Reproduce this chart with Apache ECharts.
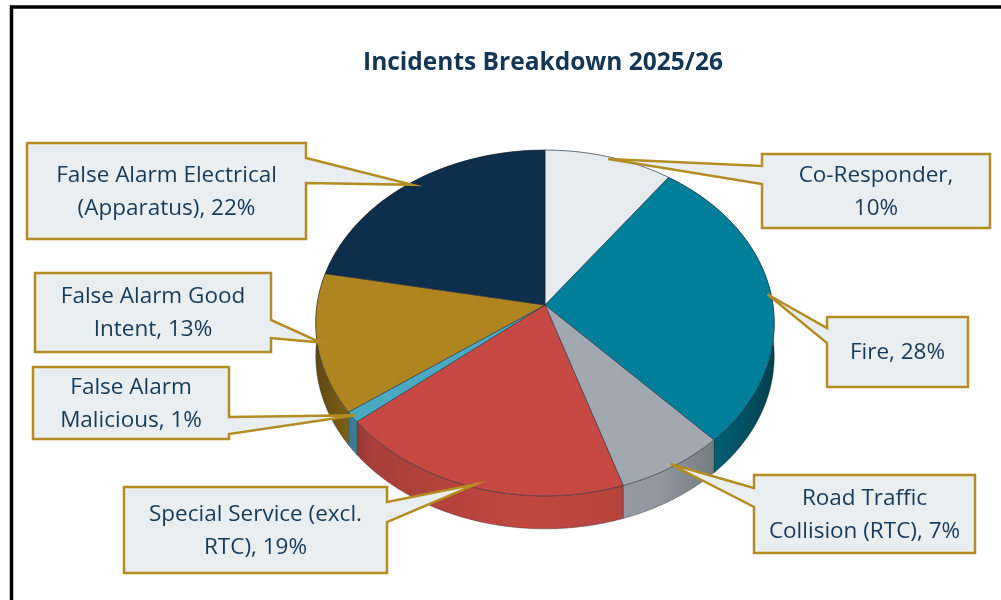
<!DOCTYPE html>
<html><head><meta charset="utf-8">
<script src="https://cdn.jsdelivr.net/npm/echarts@6/dist/echarts.min.js"></script>
<style>html,body{margin:0;padding:0;background:#fff}#c{width:1001px;height:600px}</style>
</head><body><div id="c"></div>
<script>
// ---- data ----
const chartTitle = 'Incidents Breakdown 2025/26';
const categories = ['Co-Responder', 'Fire', 'Road Traffic Collision (RTC)', 'Special Service (excl. RTC)',
  'False Alarm Malicious', 'False Alarm Good Intent', 'False Alarm Electrical (Apparatus)'];
const values = [10, 28, 7, 19, 1, 13, 22];

// ---- styles / layout ----
const colors = ['#e6ebef', '#007f9a', '#a1a8b0', '#c64a43', '#4aa9c3', '#ae851f', '#0d2f4b'];
const PIE = { cx: 545, cy: 305, A: 171, B: 228, p: 0.104, depth: 33 };
const callouts = [
  { x0: 762, y0: 154, x1: 990, y1: 228, side: 'left', w1: 166, w2: 184, br: 1 },
  { x0: 827, y0: 317, x1: 968, y1: 387, side: 'left', w1: 328, w2: 343, br: 0 },
  { x0: 754, y0: 475, x1: 975, y1: 553, side: 'left', w1: 488, w2: 507, br: 2 },
  { x0: 124, y0: 487, x1: 387, y1: 573, side: 'right', w1: 502, w2: 522, br: 3 },
  { x0: 33, y0: 367, x1: 229, y1: 439, side: 'right', w1: 417, w2: 434, br: 2 },
  { x0: 35, y0: 273, x1: 271, y1: 352, side: 'right', w1: 320, w2: 338, br: 3 },
  { x0: 27, y0: 143, x1: 306, y1: 239, side: 'right', w1: 158, w2: 183, br: 3 }
];
const FONT = '"Open Sans", "Noto Sans", sans-serif';

function proj(theta, r, dy) {
  const X = r * Math.sin(theta), Z = r * Math.cos(theta);
  const d = 1 + PIE.p * Z;
  return [PIE.cx + PIE.B * X / d, PIE.cy - PIE.A * Z / d + (dy || 0)];
}
function shade(hex, f) {
  const n = parseInt(hex.slice(1), 16);
  const r = Math.round(((n >> 16) & 255) * f), g = Math.round(((n >> 8) & 255) * f), b = Math.round((n & 255) * f);
  return 'rgb(' + r + ',' + g + ',' + b + ')';
}
function labelText(i) {
  const words = (categories[i] + ', ' + values[i] + '%').split(' ');
  const br = callouts[i].br;
  if (!br) return words.join(' ');
  return words.slice(0, br).join(' ') + '\n' + words.slice(br).join(' ');
}

const total = values.reduce((a, b) => a + b, 0);

function renderItem(params, api) {
  const i = params.dataIndex;
  let start = 0;
  for (let k = 0; k < i; k++) start += values[k];
  const v = api.value(0);
  const t1 = start / total * Math.PI * 2, t2 = (start + v) / total * Math.PI * 2;
  const n = Math.max(2, Math.ceil((t2 - t1) / (Math.PI / 360)));
  const arc = [], arcLow = [];
  for (let j = 0; j <= n; j++) {
    const t = t1 + (t2 - t1) * j / n;
    arc.push(proj(t, 1, 0));
    arcLow.push(proj(t, 1, PIE.depth));
  }
  const topPts = [[PIE.cx, PIE.cy]].concat(arc);
  const wallPts = arc.concat(arcLow.slice().reverse());
  const col = colors[i];
  const wallFill = {
    type: 'linear', x: PIE.cx - PIE.B, y: 0, x2: PIE.cx + PIE.B, y2: 0, global: true,
    colorStops: [
      { offset: 0, color: shade(col, 0.55) },
      { offset: 0.12, color: shade(col, 0.85) },
      { offset: 0.45, color: shade(col, 0.97) },
      { offset: 0.75, color: shade(col, 0.9) },
      { offset: 0.9, color: shade(col, 0.7) },
      { offset: 1, color: shade(col, 0.5) }
    ]
  };
  const c = callouts[i];
  const tip = proj((t1 + t2) / 2, 0.985, 0);
  let box;
  if (c.side === 'left') {
    box = [[c.x0, c.y0], [c.x1, c.y0], [c.x1, c.y1], [c.x0, c.y1], [c.x0, c.w2], tip, [c.x0, c.w1]];
  } else {
    box = [[c.x0, c.y0], [c.x1, c.y0], [c.x1, c.w1], tip, [c.x1, c.w2], [c.x1, c.y1], [c.x0, c.y1]];
  }
  return {
    type: 'group',
    children: [
      { type: 'polygon', z2: 1, shape: { points: wallPts },
        style: { fill: wallFill, stroke: 'rgba(40,45,55,0.55)', lineWidth: 0.7 } },
      { type: 'polygon', z2: 5, shape: { points: topPts },
        style: { fill: col, stroke: 'rgba(35,45,60,0.7)', lineWidth: 0.8 } },
      { type: 'polygon', z2: 10, shape: { points: box },
        style: { fill: '#e9eef1', stroke: '#b58c22', lineWidth: 2.5, lineJoin: 'miter' } },
      { type: 'text', z2: 11,
        style: {
          text: labelText(i), x: (c.x0 + c.x1) / 2, y: (c.y0 + c.y1) / 2 + 1,
          align: 'center', verticalAlign: 'middle', textAlign: 'center', textVerticalAlign: 'middle',
          fill: '#173a57', font: '22.5px ' + FONT, lineHeight: 33, textLineHeight: 33
        } }
    ]
  };
}

const chart = echarts.init(document.getElementById('c'), null, { renderer: 'canvas' });
chart.setOption({
  backgroundColor: '#ffffff',
  animation: false,
  title: {
    text: chartTitle, left: 538, top: 46, textAlign: 'center',
    textStyle: { color: '#143655', fontSize: 24.5, fontWeight: 'bold', fontFamily: FONT }
  },
  graphic: [{
    type: 'rect', z: 100, silent: true,
    shape: { x: 11.5, y: 7, width: 1000, height: 600 },
    style: { fill: 'none', stroke: '#000', lineWidth: 3.5 }
  }],
  series: [{
    type: 'custom', coordinateSystem: 'none',
    data: values.map(v => [v]),
    renderItem: renderItem
  }]
});
</script>
</body></html>
